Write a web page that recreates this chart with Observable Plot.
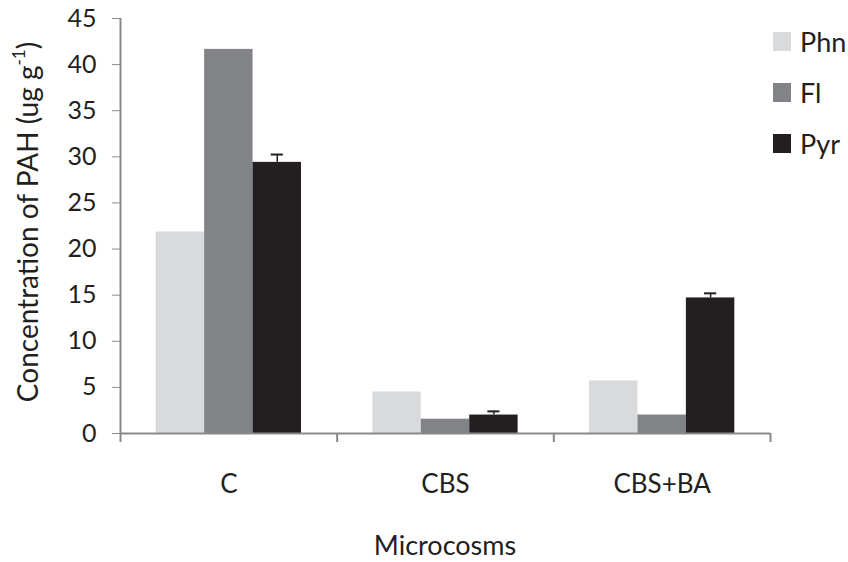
<!DOCTYPE html>
<html><head><meta charset="utf-8">
<script src="https://cdn.jsdelivr.net/npm/d3@7"></script>
<script src="https://cdn.jsdelivr.net/npm/@observablehq/plot@0.6"></script>
<style>
body{margin:0;background:#fff;font-family:Lato,"Open Sans",sans-serif;color:#231f20}
#wrap{position:relative;width:848px;height:562px;overflow:hidden}
#ytitle{position:absolute;left:27px;top:222px;transform:translate(-50%,-50%) rotate(-90deg);white-space:nowrap;font-size:28px;line-height:1.1}
#ytitle sup{font-size:17px;position:relative;top:-3px;line-height:0}
#xtitle{position:absolute;left:445px;top:545px;transform:translate(-50%,-50%);white-space:nowrap;font-size:27px;line-height:1.1}
.leg{position:absolute;left:773px;display:flex;align-items:center;font-size:27px;line-height:1.1}
.leg span.sw{display:inline-block;width:18px;height:19px;margin-right:9px}
</style></head><body>
<div id="wrap"></div>
<script>
const categories = ["C", "CBS", "CBS+BA"];
const seriesNames = ["Phn", "Fl", "Pyr"];
const phn = [21.85, 4.5, 5.7];
const fl = [41.65, 1.55, 2.0];
const pyr = [29.4, 2.0, 14.7];
const pyrErr = [0.85, 0.4, 0.5];
const colors = ["#d9dadc", "#828386", "#231f20"];
const yTicks = [0, 5, 10, 15, 20, 25, 30, 35, 40, 45];

const barW = 0.2235, pad = (1 - 3 * barW) / 2, capHalf = 0.028;
const seriesValues = [phn, fl, pyr];
const rows = [];
categories.forEach((c, i) => seriesValues.forEach((arr, j) => rows.push({
  cat: c, series: seriesNames[j], value: arr[i],
  x1: i + pad + j * barW, x2: i + pad + (j + 1) * barW
})));
const errs = categories.map((c, i) => ({
  xc: i + pad + 2.5 * barW, lo: pyr[i], hi: pyr[i] + pyrErr[i]
}));
const axisColor = "#88898b";

const chart = Plot.plot({
  width: 848, height: 562,
  marginLeft: 120, marginRight: 78, marginTop: 18, marginBottom: 129,
  style: {fontFamily: "Lato, 'Open Sans', sans-serif", color: "#231f20", background: "#fff"},
  x: {domain: [0, 3]},
  y: {domain: [0, 45]},
  color: {domain: seriesNames, range: colors},
  marks: [
    Plot.rectY(rows, {x1: "x1", x2: "x2", y: "value", fill: "series"}),
    Plot.ruleX(errs, {x: "xc", y1: "lo", y2: "hi", stroke: "#231f20", strokeWidth: 1.5}),
    Plot.ruleY(errs, {y: "hi", x1: d => d.xc - capHalf, x2: d => d.xc + capHalf, stroke: "#231f20", strokeWidth: 2}),
    Plot.ruleX([0], {stroke: axisColor, strokeWidth: 2}),
    Plot.ruleY([0], {stroke: axisColor, strokeWidth: 2}),
    Plot.axisY({ticks: yTicks, tickSize: 8, tickPadding: 16, fontSize: 25, stroke: axisColor, fill: "#231f20", label: null}),
    Plot.axisX({ticks: [0, 1, 2, 3], tickSize: 9, tickFormat: () => "", stroke: axisColor, strokeWidth: 2, label: null}),
    Plot.axisX({ticks: [0.5, 1.5, 2.5], tickSize: 0, tickPadding: 41, fontSize: 26, fill: "#231f20",
      tickFormat: d => categories[Math.floor(d)], label: null})
  ]
});
const wrap = document.getElementById("wrap");
wrap.appendChild(chart);
const yt = document.createElement("div");
yt.id = "ytitle";
yt.innerHTML = "Concentration of PAH (ug g<sup>-1</sup>)";
wrap.appendChild(yt);
const xt = document.createElement("div");
xt.id = "xtitle";
xt.textContent = "Microcosms";
wrap.appendChild(xt);
seriesNames.forEach((s, j) => {
  const d = document.createElement("div");
  d.className = "leg";
  d.style.top = (27 + j * 51) + "px";
  d.innerHTML = `<span class="sw" style="background:${colors[j]}"></span>${s}`;
  wrap.appendChild(d);
});
</script>
</body></html>
